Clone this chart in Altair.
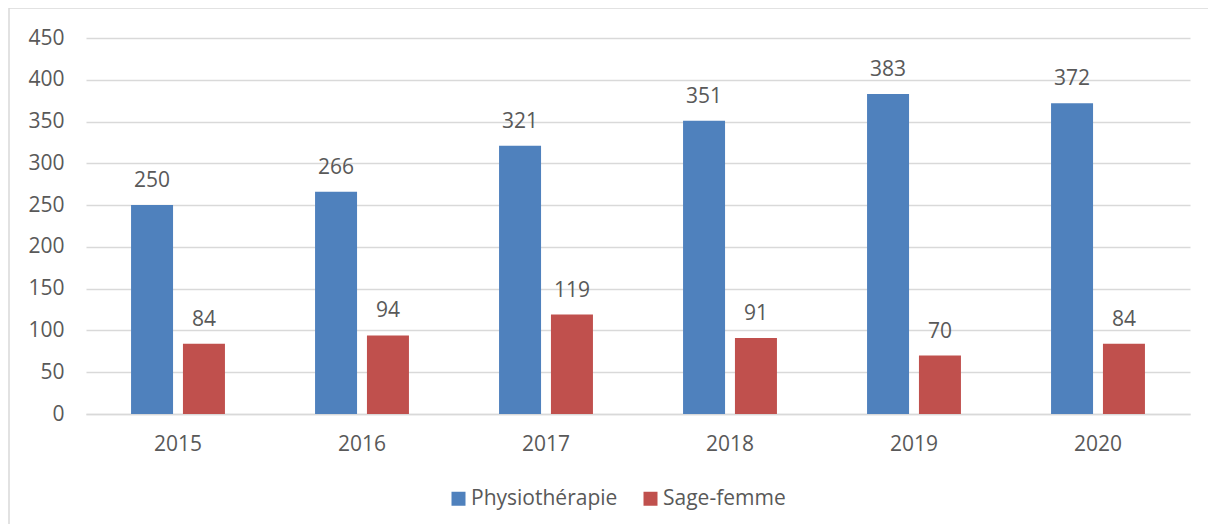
import altair as alt
import pandas as pd

years = ["2015", "2016", "2017", "2018", "2019", "2020"]
physio = [250, 266, 321, 351, 383, 372]
sage = [84, 94, 119, 91, 70, 84]
series = ["Physiothérapie", "Sage-femme"]
colors = ["#4F81BD", "#C0504D"]

rows = []
for i, y in enumerate(years):
    rows.append({"year": y, "series": series[0], "value": physio[i]})
    rows.append({"year": y, "series": series[1], "value": sage[i]})
df = pd.DataFrame(rows)

FONT = "Open Sans"
TXT = "#595959"
FS = 21

x = alt.X("year:N", sort=years, title=None,
          scale=alt.Scale(paddingInner=0.49, paddingOuter=0.245),
          axis=alt.Axis(labelAngle=0, labelFontSize=FS, labelColor=TXT, labelFont=FONT,
                        ticks=False, domain=True, domainColor="#d9d9d9", domainWidth=1.5,
                        labelPadding=19))
xo = alt.XOffset("series:N", sort=series, scale=alt.Scale(paddingInner=0.192, paddingOuter=0))
y = alt.Y("value:Q", title=None,
          scale=alt.Scale(domain=[0, 450], nice=False),
          axis=alt.Axis(values=list(range(0, 451, 50)), labelFontSize=FS, labelColor=TXT,
                        labelFont=FONT, ticks=False, domain=False, grid=True,
                        gridColor="#d9d9d9", gridWidth=1.5, labelPadding=22))
color = alt.Color("series:N", sort=series,
                  scale=alt.Scale(domain=series, range=colors),
                  legend=alt.Legend(title=None, orient="none", legendX=362, legendY=450,
                                    direction="horizontal", symbolType="square",
                                    symbolSize=196, symbolStrokeWidth=0, labelFontSize=FS,
                                    labelColor=TXT, labelFont=FONT, columnPadding=22,
                                    labelOffset=2))

base = alt.Chart(df)
bars = base.mark_bar(size=42).encode(x=x, xOffset=xo, y=y, color=color)
labels = base.mark_text(fontSize=FS, font=FONT, color=TXT, dy=-18, baseline="alphabetic").encode(
    x=x, xOffset=xo, y=y, text="value:Q")

frame = alt.Chart(pd.DataFrame({"k": [0]})).mark_rect(
    fill=None, stroke="#d9d9d9", strokeWidth=1.5).encode(
    x=alt.value(-77), x2=alt.value(1129), y=alt.value(-30), y2=alt.value(520))

chart = alt.layer(frame, bars, labels).properties(
    width=1104, height=376,
    autosize=alt.AutoSizeParams(type="none"),
    padding={"left": 78, "top": 30, "right": 18, "bottom": 110},
).configure_view(stroke=None)

chart.save("out.html", embed_options={"renderer": "svg", "actions": False})
